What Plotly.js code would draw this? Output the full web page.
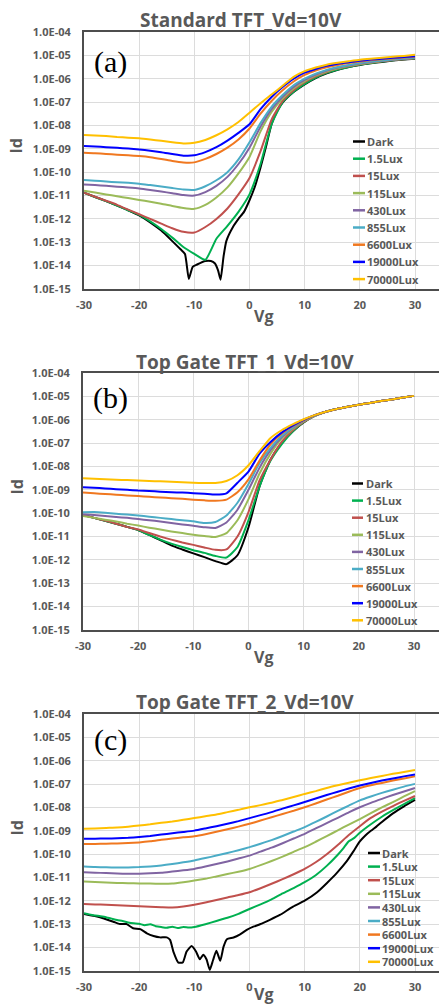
<!DOCTYPE html>
<html>
<head>
<meta charset="utf-8">
<script src="https://cdn.plot.ly/plotly-3.0.1.min.js"></script>
<style>html,body{margin:0;padding:0;background:#fff;}#chart{width:439px;height:1004px;}</style>
</head>
<body>
<div id="chart"></div>
<script>
// ---------- category / label data ----------
const names = ['Dark','1.5Lux','15Lux','115Lux','430Lux','855Lux','6600Lux','19000Lux','70000Lux'];
const panelTitles = ['Standard TFT_Vd=10V','Top Gate TFT_1_Vd=10V','Top Gate TFT_2_Vd=10V'];
const panelTags = ['(a)','(b)','(c)'];
const xTickVals = [-30,-20,-10,0,10,20,30];
const xTickText = ['-30','-20','-10','0','10','20','30'];
const yTickVals = [1e-15,1e-14,1e-13,1e-12,1e-11,1e-10,1e-9,1e-8,1e-7,1e-6,1e-5,1e-4];
const yTickText = ['1.0E-15','1.0E-14','1.0E-13','1.0E-12','1.0E-11','1.0E-10','1.0E-09','1.0E-08','1.0E-07','1.0E-06','1.0E-05','1.0E-04'];
const xTitle = 'Vg';
const yTitle = 'Id';

// ---------- panel (a): Standard TFT ----------
const vgA = [-30,-28,-26,-24,-22,-20,-18,-16,-14,-12,-10,-8,-6,-4,-2,0,2,4,6,8,10,12,14,16,18,20,22,24,26,28,30];
const vgDarkA = [-30,-28,-26,-24,-22,-20,-18,-16,-14,-12.5,-11.7,-11,-10.3,-9.5,-8,-7,-6.3,-5.7,-5.25,-4.7,-4.2,-3,-2,-1,0,1,2,3,4,5,6,8,10,12,14,16,18,20,22,24,26,28,30];
const aDark = [1.32e-11,8.7e-12,5.75e-12,3.7e-12,2.34e-12,1.41e-12,7.1e-13,3.16e-13,1.12e-13,5.0e-14,3.16e-14,2.7e-15,8.9e-15,1.12e-14,1.58e-14,1.58e-14,1.26e-14,6.3e-15,2.5e-15,2.5e-14,1.12e-13,4.5e-13,1.0e-12,2.0e-12,6.3e-12,2.5e-11,1.58e-10,1.26e-9,1.12e-8,4.0e-8,9.5e-8,2.7e-7,5.75e-7,1.07e-6,1.7e-6,2.4e-6,3.16e-6,3.9e-6,4.6e-6,5.25e-6,6.0e-6,6.6e-6,7.2e-6];
const a1_5 = [1.32e-11,8.7e-12,5.75e-12,3.7e-12,2.34e-12,1.48e-12,7.9e-13,3.7e-13,1.58e-13,6.3e-14,3.2e-14,1.78e-14,1.41e-13,5.0e-13,2.0e-12,1.12e-11,2.24e-10,1.12e-8,1.0e-7,2.8e-7,6.0e-7,1.12e-6,1.78e-6,2.5e-6,3.2e-6,4.0e-6,4.7e-6,5.4e-6,6.2e-6,6.8e-6,7.4e-6];
const a15 = [1.32e-11,8.9e-12,6.0e-12,4.0e-12,2.5e-12,1.58e-12,1.0e-12,6.3e-13,4.0e-13,2.8e-13,2.6e-13,4.5e-13,1.0e-12,2.8e-12,1.12e-11,5.6e-11,7.9e-10,1.78e-8,1.12e-7,3.2e-7,7.1e-7,1.26e-6,1.95e-6,2.7e-6,3.4e-6,4.2e-6,4.9e-6,5.6e-6,6.3e-6,6.9e-6,7.6e-6];
const a115 = [1.62e-11,1.35e-11,1.12e-11,9.3e-12,7.8e-12,6.5e-12,5.4e-12,4.5e-12,3.6e-12,2.95e-12,2.7e-12,4.0e-12,8.3e-12,2.24e-11,8.9e-11,4.5e-10,5.6e-9,3.8e-8,1.41e-7,3.8e-7,7.9e-7,1.38e-6,2.1e-6,2.8e-6,3.55e-6,4.3e-6,5.0e-6,5.75e-6,6.5e-6,7.1e-6,7.8e-6];
const a430 = [3.0e-11,2.8e-11,2.6e-11,2.4e-11,2.2e-11,2.0e-11,1.74e-11,1.48e-11,1.26e-11,1.05e-11,1.0e-11,1.41e-11,2.6e-11,6.3e-11,2.24e-10,1.12e-9,8.9e-9,5.0e-8,1.7e-7,4.5e-7,8.9e-7,1.51e-6,2.24e-6,3.0e-6,3.7e-6,4.5e-6,5.25e-6,5.9e-6,6.6e-6,7.2e-6,7.9e-6];
const a855 = [4.6e-11,4.3e-11,4.0e-11,3.7e-11,3.5e-11,3.2e-11,2.8e-11,2.45e-11,2.1e-11,1.8e-11,1.74e-11,2.5e-11,4.5e-11,1.0e-10,3.5e-10,1.9e-9,1.26e-8,6.3e-8,2.0e-7,5.25e-7,1.0e-6,1.66e-6,2.4e-6,3.16e-6,3.9e-6,4.7e-6,5.4e-6,6.0e-6,6.8e-6,7.4e-6,8.1e-6];
const a6600 = [6.8e-10,6.5e-10,6.0e-10,5.6e-10,5.25e-10,4.9e-10,4.4e-10,3.7e-10,3.0e-10,2.6e-10,2.63e-10,3.7e-10,6.0e-10,1.12e-9,2.5e-9,7.4e-9,3.2e-8,1.12e-7,3.2e-7,7.6e-7,1.45e-6,2.24e-6,3.1e-6,3.9e-6,4.7e-6,5.4e-6,6.2e-6,6.8e-6,7.4e-6,8.1e-6,8.7e-6];
const a19000 = [1.32e-9,1.26e-9,1.17e-9,1.10e-9,1.02e-9,9.3e-10,8.3e-10,7.2e-10,6.0e-10,5.1e-10,5.25e-10,7.2e-10,1.17e-9,2.24e-9,4.8e-9,1.12e-8,5.0e-8,1.66e-7,4.4e-7,1.0e-6,1.82e-6,2.63e-6,3.55e-6,4.37e-6,5.1e-6,5.9e-6,6.6e-6,7.2e-6,7.9e-6,8.5e-6,9.1e-6];
const a70000 = [3.9e-9,3.7e-9,3.5e-9,3.2e-9,3.0e-9,2.8e-9,2.5e-9,2.2e-9,1.9e-9,1.7e-9,1.8e-9,2.4e-9,3.8e-9,6.8e-9,1.4e-8,3.5e-8,8.9e-8,2.1e-7,5.0e-7,1.2e-6,2.1e-6,3.0e-6,4.0e-6,4.8e-6,5.6e-6,6.5e-6,7.2e-6,7.9e-6,8.7e-6,9.5e-6,1.05e-5];

// ---------- panel (b): Top Gate TFT_1 ----------
const vgB = [-30,-28,-26,-24,-22,-20,-18,-16,-14,-12,-10,-8,-6,-4,-2,0,2,4,6,8,10,12,14,16,18,20,22,24,26,28,30];
const bDark = [8.3e-11,6.3e-11,4.7e-11,3.5e-11,2.6e-11,1.9e-11,1.17e-11,7.1e-12,4.2e-12,2.8e-12,1.9e-12,1.32e-12,8.9e-13,6.6e-13,1.58e-12,2.5e-11,1.41e-9,2.0e-8,1.0e-7,3.16e-7,7.6e-7,1.45e-6,2.2e-6,2.9e-6,3.6e-6,4.4e-6,5.25e-6,6.3e-6,7.4e-6,8.9e-6,1.05e-5];
const b1_5 = [8.3e-11,6.3e-11,4.7e-11,3.5e-11,2.6e-11,1.9e-11,1.17e-11,7.4e-12,5.0e-12,3.55e-12,2.6e-12,2.0e-12,1.48e-12,1.26e-12,3.55e-12,5.0e-11,1.41e-9,1.78e-8,8.9e-8,3.16e-7,7.9e-7,1.45e-6,2.2e-6,2.9e-6,3.6e-6,4.4e-6,5.25e-6,6.3e-6,7.4e-6,8.9e-6,1.05e-5];
const b15 = [8.3e-11,6.3e-11,4.8e-11,3.55e-11,2.6e-11,2.0e-11,1.41e-11,1.0e-11,7.4e-12,5.6e-12,4.4e-12,3.4e-12,2.7e-12,2.8e-12,1.0e-11,1.12e-10,2.5e-9,2.0e-8,1.12e-7,3.55e-7,8.1e-7,1.48e-6,2.2e-6,2.9e-6,3.6e-6,4.4e-6,5.25e-6,6.3e-6,7.4e-6,8.9e-6,1.05e-5];
const b115 = [7.6e-11,6.3e-11,5.25e-11,4.4e-11,3.55e-11,2.95e-11,2.4e-11,2.0e-11,1.66e-11,1.41e-11,1.2e-11,1.05e-11,9.5e-12,1.41e-11,5.0e-11,4.0e-10,5.0e-9,3.55e-8,1.58e-7,4.0e-7,8.5e-7,1.48e-6,2.2e-6,2.9e-6,3.6e-6,4.4e-6,5.25e-6,6.3e-6,7.4e-6,8.9e-6,1.05e-5];
const b430 = [8.9e-11,8.3e-11,7.6e-11,6.9e-11,6.3e-11,5.6e-11,5.0e-11,4.4e-11,3.8e-11,3.3e-11,2.9e-11,2.5e-11,2.34e-11,4.0e-11,1.41e-10,1.0e-9,8.9e-9,5.0e-8,1.78e-7,4.4e-7,8.9e-7,1.51e-6,2.2e-6,2.9e-6,3.6e-6,4.4e-6,5.25e-6,6.3e-6,7.4e-6,8.9e-6,1.05e-5];
const b855 = [1.1e-10,1.12e-10,1.05e-10,9.5e-11,8.7e-11,7.9e-11,7.1e-11,6.3e-11,5.6e-11,5.0e-11,4.5e-11,3.8e-11,4.2e-11,7.9e-11,2.8e-10,1.78e-9,1.41e-8,6.3e-8,2.0e-7,4.7e-7,9.1e-7,1.51e-6,2.2e-6,2.9e-6,3.6e-6,4.4e-6,5.25e-6,6.3e-6,7.4e-6,8.9e-6,1.05e-5];
const b6600 = [7.6e-10,7.1e-10,6.6e-10,6.2e-10,5.75e-10,5.4e-10,5.0e-10,4.7e-10,4.4e-10,4.1e-10,3.8e-10,3.55e-10,3.4e-10,3.8e-10,7.9e-10,2.8e-9,1.78e-8,8.9e-8,2.5e-7,5.25e-7,9.5e-7,1.55e-6,2.2e-6,2.9e-6,3.6e-6,4.4e-6,5.25e-6,6.3e-6,7.4e-6,8.9e-6,1.05e-5];
const b19000 = [1.29e-9,1.23e-9,1.15e-9,1.07e-9,1.0e-9,9.3e-10,8.9e-10,8.3e-10,7.9e-10,7.6e-10,7.2e-10,6.8e-10,6.3e-10,7.1e-10,2.0e-9,6.0e-9,3.55e-8,1.12e-7,2.8e-7,5.6e-7,1.0e-6,1.58e-6,2.2e-6,2.9e-6,3.6e-6,4.4e-6,5.25e-6,6.3e-6,7.4e-6,8.9e-6,1.05e-5];
const b70000 = [3.1e-9,2.95e-9,2.8e-9,2.7e-9,2.6e-9,2.5e-9,2.4e-9,2.3e-9,2.2e-9,2.1e-9,2.0e-9,1.95e-9,1.95e-9,2.4e-9,4.2e-9,1.12e-8,4.5e-8,1.66e-7,3.55e-7,6.3e-7,1.05e-6,1.58e-6,2.2e-6,2.9e-6,3.6e-6,4.4e-6,5.25e-6,6.3e-6,7.4e-6,8.9e-6,1.05e-5];

// ---------- panel (c): Top Gate TFT_2 ----------
const vgC = [-30,-28,-26,-24,-22,-20,-18,-16,-14,-12,-10,-8,-6,-4,-2,0,2,4,6,8,10,12,14,16,18,20,22,24,26,28,30];
const vgDarkC = [-30,-27.1,-24.7,-23.5,-22.3,-21.1,-19.8,-18.6,-17.4,-16.2,-15,-14.4,-13.8,-12.9,-12.1,-11.4,-10.5,-9.7,-9,-8.4,-7.8,-7.2,-6.6,-6,-5.3,-4.7,-4.1,-2.9,-1.7,-0.5,0.7,1.9,3.7,5.5,7.9,10,12.2,14,15.8,17.6,18.8,20,21,22,23,24,26,28,30];
const vg1_5C = [-30,-29,-28,-27,-26,-25,-24,-23,-22,-21,-20,-19,-18,-17,-16,-15,-14,-13,-12,-11,-10,-8,-6,-4,-2,0,2,4,6,8,10,12,14,16,17,18,19,20,22,24,26,28,30];
const cDark = [2.75e-13,2.0e-13,1.29e-13,1.02e-13,1.02e-13,6.8e-14,6.2e-14,4.1e-14,3.16e-14,2.75e-14,2.75e-14,2.14e-14,6.8e-15,2.3e-15,2.3e-15,6.8e-15,1.17e-14,6.8e-15,3.16e-15,4.9e-15,3.16e-15,1.12e-15,2.95e-15,7.4e-15,2.75e-15,1.1e-14,2.3e-14,2.7e-14,3.7e-14,5.75e-14,7.9e-14,1.0e-13,1.55e-13,2.5e-13,5.75e-13,1.02e-12,2.3e-12,5.75e-12,1.55e-11,4.9e-11,1.29e-10,3.5e-10,6.3e-10,1.0e-9,1.51e-9,2.4e-9,5.6e-9,1.12e-8,2.1e-8];
const c1_5 = [2.95e-13,2.6e-13,2.4e-13,2.2e-13,2.0e-13,1.74e-13,1.51e-13,1.38e-13,1.2e-13,1.1e-13,1.05e-13,9.1e-14,1.0e-13,8.3e-14,7.6e-14,7.1e-14,7.9e-14,6.9e-14,7.6e-14,7.2e-14,7.6e-14,1.0e-13,1.38e-13,1.9e-13,2.8e-13,4.5e-13,7.1e-13,1.17e-12,2.1e-12,3.55e-12,6.3e-12,1.26e-11,3.16e-11,9.5e-11,1.78e-10,3.55e-10,5.0e-10,8.3e-10,1.9e-9,4.0e-9,7.6e-9,1.38e-8,2.5e-8];
const c15 = [7.4e-13,7.1e-13,6.8e-13,6.5e-13,6.2e-13,5.9e-13,5.6e-13,5.4e-13,5.25e-13,5.75e-13,6.8e-13,8.5e-13,1.1e-12,1.41e-12,1.78e-12,2.34e-12,3.5e-12,5.4e-12,8.5e-12,1.38e-11,2.34e-11,4.5e-11,1.0e-10,2.5e-10,6.6e-10,1.58e-9,3.55e-9,6.6e-9,1.15e-8,1.9e-8,3.1e-8];
const c115 = [6.8e-12,6.5e-12,6.2e-12,5.9e-12,5.75e-12,5.6e-12,5.5e-12,5.4e-12,5.5e-12,6.3e-12,7.4e-12,8.9e-12,1.12e-11,1.41e-11,1.78e-11,2.34e-11,3.4e-11,5.1e-11,7.9e-11,1.26e-10,2.0e-10,3.4e-10,5.9e-10,1.05e-9,1.86e-9,3.2e-9,5.75e-9,1.0e-8,1.7e-8,2.95e-8,5.0e-8];
const c430 = [1.7e-11,1.62e-11,1.55e-11,1.48e-11,1.45e-11,1.45e-11,1.51e-11,1.62e-11,1.82e-11,2.04e-11,2.34e-11,2.95e-11,3.8e-11,4.9e-11,6.5e-11,8.7e-11,1.29e-10,1.9e-10,2.95e-10,4.7e-10,7.4e-10,1.26e-9,2.14e-9,3.6e-9,6.2e-9,1.02e-8,1.58e-8,2.34e-8,3.4e-8,4.8e-8,6.8e-8];
const c855 = [2.95e-11,2.8e-11,2.75e-11,2.7e-11,2.7e-11,2.8e-11,3.0e-11,3.3e-11,3.8e-11,4.5e-11,5.4e-11,6.8e-11,8.7e-11,1.12e-10,1.48e-10,2.0e-10,2.8e-10,4.0e-10,6.0e-10,9.3e-10,1.45e-9,2.4e-9,4.1e-9,7.1e-9,1.2e-8,2.0e-8,2.95e-8,4.2e-8,5.75e-8,7.8e-8,1.02e-7];
const c6600 = [2.75e-10,2.75e-10,2.8e-10,2.9e-10,3.0e-10,3.2e-10,3.55e-10,4.1e-10,4.7e-10,5.25e-10,5.9e-10,7.2e-10,9.1e-10,1.17e-9,1.51e-9,2.0e-9,2.75e-9,3.8e-9,5.25e-9,7.2e-9,1.02e-8,1.48e-8,2.2e-8,3.16e-8,4.7e-8,6.8e-8,8.9e-8,1.12e-7,1.41e-7,1.74e-7,2.14e-7];
const c19000 = [4.6e-10,4.6e-10,4.7e-10,4.8e-10,5.0e-10,5.4e-10,6.0e-10,6.9e-10,7.9e-10,8.9e-10,1.02e-9,1.26e-9,1.58e-9,2.0e-9,2.6e-9,3.5e-9,4.7e-9,6.3e-9,8.9e-9,1.23e-8,1.7e-8,2.4e-8,3.4e-8,4.7e-8,6.5e-8,8.7e-8,1.12e-7,1.41e-7,1.74e-7,2.14e-7,2.6e-7];
const c70000 = [1.23e-9,1.26e-9,1.32e-9,1.38e-9,1.51e-9,1.7e-9,1.9e-9,2.2e-9,2.5e-9,2.95e-9,3.5e-9,4.2e-9,5.0e-9,6.3e-9,7.9e-9,1.02e-8,1.26e-8,1.58e-8,2.1e-8,2.8e-8,3.8e-8,5.0e-8,6.8e-8,8.9e-8,1.15e-7,1.45e-7,1.82e-7,2.24e-7,2.75e-7,3.3e-7,4.0e-7];

// ---------- styling ----------
const colors = ['#000000','#00b050','#c0504d','#9bbb59','#8064a2','#4bacc6','#f07820','#0000ff','#ffc000'];
const W = 439, H = 1004;
const PX = v => v / W, PY = v => 1 - v / H;
const GRAY = '#595959';
const SANS = 'Open Sans, Noto Sans, sans-serif';

const panels = [
  {xs:[vgDarkA,vgA,vgA,vgA,vgA,vgA,vgA,vgA,vgA], ys:[aDark,a1_5,a15,a115,a430,a855,a6600,a19000,a70000],
   left:84, top:32, bottom:289, xmax:34.35, titleXY:[241,20.5], tagXY:[110,62], vgY:316,
   leg:{l0:353,l1:365,tx:366,y0:141.5,dy:17.2}},
  {xs:[vgB,vgB,vgB,vgB,vgB,vgB,vgB,vgB,vgB], ys:[bDark,b1_5,b15,b115,b430,b855,b6600,b19000,b70000],
   left:83, top:373, bottom:630, xmax:34.53, titleXY:[245,361.5], tagXY:[110,398], vgY:657,
   leg:{l0:352,l1:363,tx:364.5,y0:483.5,dy:17.1}},
  {xs:[vgDarkC,vg1_5C,vgC,vgC,vgC,vgC,vgC,vgC,vgC], ys:[cDark,c1_5,c15,c115,c430,c855,c6600,c19000,c70000],
   left:84, top:714, bottom:971, xmax:34.35, titleXY:[244.5,701.5], tagXY:[110,740], vgY:994,
   leg:{l0:368,l1:380,tx:381,y0:853,dy:13.6}}
];

const traces = [];
const layout = {
  width: W, height: H, margin:{l:0,r:0,t:0,b:0},
  paper_bgcolor:'#ffffff', plot_bgcolor:'#ffffff',
  showlegend:false, annotations:[], shapes:[]
};

panels.forEach((p, k) => {
  const xn = k === 0 ? 'x' : 'x' + (k+1);
  const yn = k === 0 ? 'y' : 'y' + (k+1);
  const xk = k === 0 ? 'xaxis' : 'xaxis' + (k+1);
  const yk = k === 0 ? 'yaxis' : 'yaxis' + (k+1);
  names.forEach((n, i) => {
    traces.push({
      type:'scatter', mode:'lines', name:n, x:p.xs[i], y:p.ys[i],
      xaxis:xn, yaxis:yn, hoverinfo:'skip',
      line:{color:colors[i], width:2, shape:'spline', smoothing:0.5}
    });
  });
  layout[xk] = {
    domain:[PX(p.left), 1], range:[-30, p.xmax], anchor:yn,
    tickmode:'array', tickvals:xTickVals, ticktext:xTickText,
    showgrid:true, gridcolor:'#dcdcdc', gridwidth:1, zeroline:false,
    showline:true, linecolor:'#4d4d4d', linewidth:2, mirror:true, ticks:'',
    ticklabelstandoff:5,
    tickfont:{family:SANS, size:11, color:GRAY, weight:700}
  };
  layout[yk] = {
    domain:[PY(p.bottom), PY(p.top)], type:'log', range:[-15,-4], anchor:xn,
    tickmode:'array', tickvals:yTickVals, ticktext:yTickText,
    showgrid:true, gridcolor:'#dcdcdc', gridwidth:1, zeroline:false,
    showline:true, linecolor:'#4d4d4d', linewidth:2, ticks:'',
    ticklabelstandoff:9,
    tickfont:{family:SANS, size:11, color:GRAY, weight:700}
  };
  // title
  layout.annotations.push({xref:'paper', yref:'paper', x:PX(p.titleXY[0]), y:PY(p.titleXY[1]),
    xanchor:'center', yanchor:'middle', showarrow:false, text:panelTitles[k],
    font:{family:SANS, size:19, color:GRAY, weight:700}});
  // panel tag
  layout.annotations.push({xref:'paper', yref:'paper', x:PX(p.tagXY[0]), y:PY(p.tagXY[1]),
    xanchor:'center', yanchor:'middle', showarrow:false, text:panelTags[k],
    font:{family:'Liberation Serif, Times New Roman, serif', size:30, color:'#000000'}});
  // axis titles
  layout.annotations.push({xref:'paper', yref:'paper', x:PX(16), y:PY((p.top+p.bottom)/2 - 14),
    xanchor:'center', yanchor:'middle', showarrow:false, text:yTitle, textangle:-90,
    font:{family:SANS, size:16, color:GRAY, weight:700}});
  layout.annotations.push({xref:'paper', yref:'paper', x:PX(263), y:PY(p.vgY),
    xanchor:'center', yanchor:'middle', showarrow:false, text:xTitle, borderpad:0,
    font:{family:SANS, size:16, color:GRAY, weight:700}});
  // legend (drawn from names/colors)
  names.forEach((n, i) => {
    const yy = p.leg.y0 + i * p.leg.dy;
    layout.shapes.push({type:'line', xref:'paper', yref:'paper',
      x0:PX(p.leg.l0), x1:PX(p.leg.l1), y0:PY(yy), y1:PY(yy),
      line:{color:colors[i], width:2.5}});
    layout.annotations.push({xref:'paper', yref:'paper', x:PX(p.leg.tx), y:PY(yy),
      xanchor:'left', yanchor:'middle', showarrow:false, text:n, borderpad:0,
      font:{family:SANS, size:11, color:GRAY, weight:700}});
  });
});

Plotly.newPlot('chart', traces, layout, {displayModeBar:false, staticPlot:true});
</script>
</body>
</html>
